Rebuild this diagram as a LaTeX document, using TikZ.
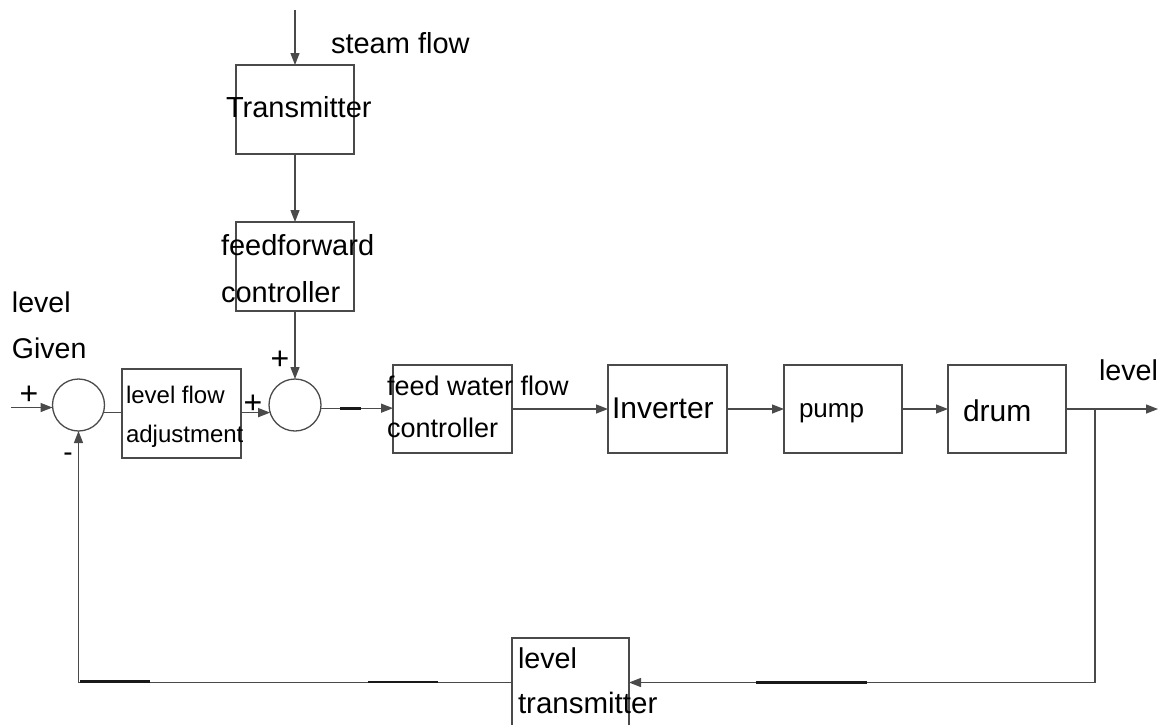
\documentclass[tikz,border=0pt]{standalone}
\usepackage{fontspec}
\setmainfont{Liberation Sans}
\usetikzlibrary{arrows.meta}
\definecolor{lc}{HTML}{4A4A4A}
\newcommand{\fs}[1]{\fontsize{#1}{#1}\selectfont}
\tikzset{
  box/.style={draw=lc, line width=1.3pt, minimum width=118pt, minimum height=89pt, inner sep=0pt, outer sep=0pt},
  sumj/.style={circle, draw=lc, line width=1.3pt, minimum size=52pt, inner sep=0pt, outer sep=0pt},
  conn/.style={draw=lc, line width=1.3pt},
  arr/.style={conn, -{Triangle[length=12pt,width=9pt]}},
  txt/.style={inner sep=0pt, outer sep=0pt, anchor=base west, text=black},
  sgn/.style={inner sep=0pt, outer sep=0pt, anchor=base, text=black},
  thk/.style={draw=black!90, line width=2.1pt}
}
\begin{document}
\begin{tikzpicture}[x=1pt,y=-1pt]
\useasboundingbox (0,0) rectangle (1174,724);
\fill[white] (0,0) rectangle (1174,724);
\clip (0,0) rectangle (1174,724);
% boxes
\node[box] (tr)  at (295,109.5) {};
\node[box] (ff)  at (295,266.5) {};
\node[box, minimum width=119pt] (lfa) at (181.5,413.5) {};
\node[box, minimum width=119pt, minimum height=88pt] (fwc) at (452.5,409) {};
\node[box, minimum width=119pt, minimum height=88pt] (inv) at (667.5,409) {};
\node[box, minimum height=88pt] (pump) at (843,409) {};
\node[box, minimum height=88pt] (drum) at (1007,409) {};
\node[box, minimum width=117pt] (lt) at (570.5,682.5) {};
% summing junctions
\node[sumj] (s1) at (78.5,405) {};
\node[sumj] (s2) at (295,405) {};
% coordinates
\coordinate (top) at (295,10);
\coordinate (in) at (11,407.5);
\coordinate (out) at (1158,409);
\coordinate (br) at (1095,409);
% connectors
\draw[arr] (top) -- (tr.north);
\draw[arr] (tr.south) -- (ff.north);
\draw[arr] (ff.south) -- (s2.north);
\draw[arr] (in) -- (in -| s1.west);
\draw[conn] (s1.-17) -- (s1.-17 -| lfa.west);
\draw[arr] (s2.197 -| lfa.east) -- (s2.197);
\draw[arr] (s2.-7) -- (s2.-7 -| fwc.west);
\draw[arr] (fwc.east) -- (inv.west);
\draw[arr] (inv.east) -- (pump.west);
\draw[arr] (pump.east) -- (drum.west);
\draw[arr] (drum.east) -- (out);
\draw[arr] (br) |- (lt.east);
\draw[arr] (lt.west) -| (s1.south);
% thick segments
\draw[thk] (80,681.5) -- (150,681.5);
\draw[thk] (368,682) -- (438,682);
\draw[thk] (756,682.5) -- (867,682.5);
\draw[thk] (340,408.5) -- (361,408.5);
% texts
\node[txt, font=\fs{29}] (tsteam) at (331,53) {steam flow};
\node[txt, font=\fs{29}] (ttr) at (226,117) {Transmitter};
\node[txt, font=\fs{29}] (tff1) at (221,255) {feedforward};
\node[txt, font=\fs{29}] (tff2) at (221,302) {controller};
\node[txt, font=\fs{28.5}] (tlev) at (12,312) {level};
\node[txt, font=\fs{28.5}] (tgiv) at (12,358) {Given};
\node[txt, font=\fs{24}] (tlfa1) at (126,403) {level flow};
\node[txt, font=\fs{24}] (tlfa2) at (126,442) {adjustment};
\node[txt, font=\fs{27}] (tfwc1) at (387,395) {feed water flow};
\node[txt, font=\fs{27}] (tfwc2) at (387,437) {controller};
\node[txt, font=\fs{30}] (tinv) at (612,418) {Inverter};
\node[txt, font=\fs{26}] (tpump) at (799,417) {pump};
\node[txt, font=\fs{30}] (tdrum) at (963,421) {drum};
\node[txt, font=\fs{28.7}] (tout) at (1099,380) {level};
\node[txt, font=\fs{28.7}] (tlt1) at (518,668) {level};
\node[txt, font=\fs{29.5}] (tlt2) at (518,713) {transmitter};
% signs
\node[sgn, font=\fs{32}] (p1) at (29,404) {+};
\node[sgn, font=\fs{28}] (m1) at (68,461) {-};
\node[sgn, font=\fs{32}] (p2) at (280,369) {+};
\node[sgn, font=\fs{32}] (p3) at (253,413) {+};
\end{tikzpicture}
\end{document}
